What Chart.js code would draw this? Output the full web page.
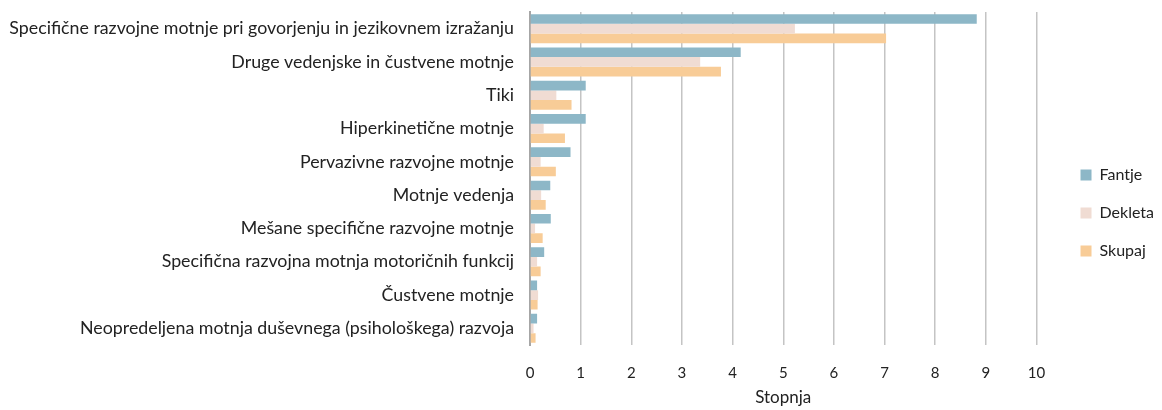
<!DOCTYPE html>
<html>
<head>
<meta charset="utf-8">
<script src="https://cdn.jsdelivr.net/npm/chart.js@4"></script>
<style>
  html, body { margin: 0; padding: 0; background: #fff; }
  #wrap { width: 1162px; height: 410px; position: relative; }
</style>
</head>
<body>
<div id="wrap"><canvas id="chart"></canvas></div>
<script>
// === Stopnja po diagnozah ===

const categories = [
  'Specifične razvojne motnje pri govorjenju in jezikovnem izražanju',
  'Druge vedenjske in čustvene motnje',
  'Tiki',
  'Hiperkinetične motnje',
  'Pervazivne razvojne motnje',
  'Motnje vedenja',
  'Mešane specifične razvojne motnje',
  'Specifična razvojna motnja motoričnih funkcij',
  'Čustvene motnje',
  'Neopredeljena motnja duševnega (psihološkega) razvoja',
];

const fantje  = [8.82, 4.16, 1.10, 1.10, 0.80, 0.40, 0.41, 0.28, 0.14, 0.14];
const dekleta = [5.23, 3.36, 0.52, 0.27, 0.21, 0.22, 0.10, 0.14, 0.16, 0.07];
const skupaj  = [7.03, 3.77, 0.82, 0.69, 0.51, 0.31, 0.25, 0.21, 0.15, 0.11];

const xTicks = [0, 1, 2, 3, 4, 5, 6, 7, 8, 9, 10];

const FONT = 'Lato, "Open Sans", sans-serif';

// legenda stoji malo bolj desno kot jo postavi Chart.js
const legendNudge = {
  id: 'legendNudge',
  afterLayout(chart) {
    const lg = chart.legend;
    if (!lg) return;
    lg.left += 22;
    lg.right += 22;
    lg.top += 3;
    lg.bottom += 3;
  },
};

new Chart(document.getElementById('chart'), {
  type: 'bar',
  data: {
    labels: categories,
    datasets: [
      { label: 'Fantje',  data: fantje,  backgroundColor: '#8db7c7' },
      { label: 'Dekleta', data: dekleta, backgroundColor: '#f0dcd3' },
      { label: 'Skupaj',  data: skupaj,  backgroundColor: '#f8cc97' },
    ],
  },
  options: {
    indexAxis: 'y',
    responsive: true,
    maintainAspectRatio: false,
    animation: false,
    layout: { padding: { top: 12, left: 0, right: 20, bottom: 2 } },
    datasets: { bar: { categoryPercentage: 0.87, barPercentage: 1.0 } },
    scales: {
      x: {
        min: 0,
        max: 10,
        afterBuildTicks(axis) { axis.ticks = xTicks.map(v => ({ value: v })); },
        afterFit(axis) { axis.height = 63; },
        grid: { color: '#c4c4c4', lineWidth: 1.5, drawTicks: false },
        border: { display: false },
        ticks: { color: '#222', font: { family: FONT, size: 15 }, padding: 19 },
        title: { display: true, text: 'Stopnja', color: '#222', font: { family: FONT, size: 17 }, padding: { top: 6, bottom: 0 } },
      },
      y: {
        afterFit(axis) {
          axis.width = 530;
          axis.paddingTop = 0;
          axis.paddingBottom = 0;
        },
        grid: { display: false },
        border: { color: '#a6a6a6', width: 2 },
        ticks: { color: '#222', font: { family: FONT, size: 17.8 }, padding: 8 },
      },
    },
    plugins: {
      legend: {
        position: 'right',
        labels: {
          boxWidth: 11,
          boxHeight: 11,
          padding: 22,
          color: '#222',
          font: { family: FONT, size: 16 },
        },
      },
      tooltip: { enabled: false },
    },
  },
  plugins: [legendNudge],
});
</script>
</body>
</html>
